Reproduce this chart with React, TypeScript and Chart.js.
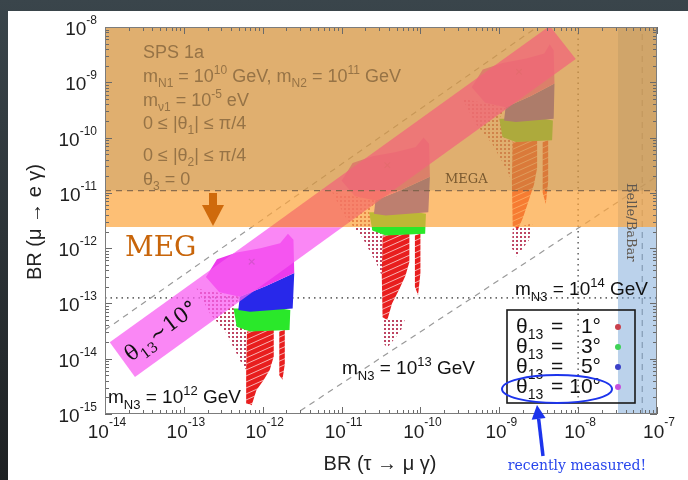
import { useEffect, useRef } from 'react';
import { Chart, registerables } from 'chart.js';

Chart.register(...registerables);

// every polygon vertex is [log10 BR(tau -> mu gamma), log10 BR(mu -> e gamma)]
type LP = [number, number];

// ---------------- axes ----------------
const X_MIN = 1e-14;
const X_MAX = 1e-7;
const Y_MIN = 1e-15;
const Y_MAX = 1e-8;
const xDecades = [-14, -13, -12, -11, -10, -9, -8, -7];
const yDecades = [-15, -14, -13, -12, -11, -10, -9, -8];
const minorSteps = [2, 3, 4, 5, 6, 7, 8, 9];

// ---------------- experimental bounds ----------------
const MEGA_LIMIT = 1.1e-11;
const MEG_LIMIT = 2.4e-12;
const MEG_REACH = 1.26e-13;
const TAU_REACH = 1e-8;
const BELLE_LIMIT = 3.2e-8;
const BABAR_OLD = 6.5e-8;

// ---------------- dashed ratio lines ----------------
const ratioLineA: LP[] = [[-14.0, -13.48], [-8.52, -8.0]];
const ratioLineB: LP[] = [[-11.64, -15.05], [-7.0, -10.7]];

// ---------------- scan, m_N3 = 1e12 GeV ----------------
const n12Fringe: LP[] = [[-12.84, -12.73], [-12.29, -12.88], [-12.37, -13.09], [-12.2, -13.51], [-12.21, -14.2], [-12.27, -14.08], [-12.46, -13.54], [-12.67, -13.18]];
const n12Red: LP[] = [[-12.2, -13.51], [-11.86, -13.48], [-11.86, -13.96], [-11.91, -14.2], [-11.99, -14.39], [-12.08, -14.57], [-12.14, -14.84], [-12.2, -14.81], [-12.21, -14.2]];
const n12RedStreak: LP[] = [[-11.79, -13.51], [-11.72, -13.48], [-11.72, -14.1], [-11.75, -14.38], [-11.79, -14.3]];
const n12Green: LP[] = [[-12.37, -13.09], [-11.86, -13.09], [-11.86, -12.76], [-11.77, -12.76], [-11.77, -13.09], [-11.65, -13.12], [-11.66, -13.48], [-12.16, -13.51], [-12.33, -13.42]];
const n12Blue: LP[] = [[-12.31, -13.12], [-12.29, -12.88], [-11.95, -12.68], [-11.6, -12.45], [-11.62, -13.09], [-12.16, -13.15]];
const n12Magenta: LP[] = [[-12.72, -12.52], [-12.58, -12.2], [-12.33, -12.08], [-12.03, -12.0], [-11.78, -11.91], [-11.68, -11.74], [-11.61, -11.85], [-11.6, -12.45], [-11.95, -12.68], [-12.29, -12.88], [-12.55, -12.8]];
const n12Center: LP[] = [[-12.14, -12.245]];

// ---------------- scan, m_N3 = 1e13 GeV ----------------
const n13Fringe: LP[] = [[-11.12, -10.99], [-10.57, -11.14], [-10.65, -11.35], [-10.48, -11.77], [-10.49, -12.5], [-10.55, -12.3], [-10.74, -11.8], [-10.95, -11.44]];
const n13Tail: LP[] = [[-10.48, -13.3], [-10.2, -13.3], [-10.25, -13.5], [-10.42, -13.8], [-10.48, -13.7]];
const n13Red: LP[] = [[-10.48, -11.77], [-10.14, -11.74], [-10.14, -12.25], [-10.19, -12.5], [-10.27, -12.75], [-10.36, -13.0], [-10.42, -13.3], [-10.48, -13.25], [-10.49, -12.5]];
const n13RedStreak: LP[] = [[-10.07, -11.77], [-10.0, -11.74], [-10.0, -12.45], [-10.03, -12.85], [-10.07, -12.7]];
const n13Green: LP[] = [[-10.65, -11.35], [-10.14, -11.35], [-10.14, -11.02], [-10.05, -11.02], [-10.05, -11.35], [-9.93, -11.38], [-9.94, -11.74], [-10.44, -11.77], [-10.61, -11.68]];
const n13Blue: LP[] = [[-10.59, -11.38], [-10.57, -11.14], [-10.23, -10.94], [-9.88, -10.71], [-9.9, -11.35], [-10.44, -11.41]];
const n13Magenta: LP[] = [[-11.0, -10.78], [-10.86, -10.46], [-10.61, -10.34], [-10.31, -10.26], [-10.06, -10.17], [-9.96, -10.0], [-9.89, -10.11], [-9.88, -10.71], [-10.23, -10.94], [-10.57, -11.14], [-10.83, -11.06]];
const n13Center: LP[] = [[-10.42, -10.5]];

// ---------------- scan, m_N3 = 1e14 GeV ----------------
const n14Fringe: LP[] = [[-9.47, -9.3], [-8.92, -9.45], [-9.0, -9.66], [-8.83, -10.08], [-8.84, -10.8], [-8.9, -10.6], [-9.09, -10.11], [-9.3, -9.75]];
const n14Tail: LP[] = [[-8.83, -11.65], [-8.58, -11.55], [-8.62, -11.85], [-8.78, -12.15], [-8.84, -12.0]];
const n14Red: LP[] = [[-8.83, -10.08], [-8.52, -10.05], [-8.52, -10.55], [-8.56, -10.85], [-8.63, -11.15], [-8.7, -11.45], [-8.76, -11.65], [-8.83, -11.6], [-8.84, -10.8]];
const n14RedStreak: LP[] = [[-8.45, -10.08], [-8.38, -10.05], [-8.38, -10.8], [-8.41, -11.2], [-8.45, -11.0]];
const n14Green: LP[] = [[-9.0, -9.66], [-8.52, -9.66], [-8.52, -9.33], [-8.44, -9.33], [-8.44, -9.66], [-8.32, -9.69], [-8.33, -10.05], [-8.79, -10.08], [-8.96, -9.99]];
const n14Blue: LP[] = [[-8.94, -9.69], [-8.92, -9.45], [-8.6, -9.25], [-8.3, -9.02], [-8.31, -9.66], [-8.79, -9.72]];
const n14Magenta: LP[] = [[-9.35, -9.09], [-9.21, -8.77], [-8.96, -8.65], [-8.66, -8.57], [-8.43, -8.48], [-8.36, -8.31], [-8.31, -8.42], [-8.3, -9.02], [-8.6, -9.25], [-8.92, -9.45], [-9.18, -9.37]];
const n14Center: LP[] = [[-8.75, -8.81]];

// ---------------- "theta13 ~ 10 deg" band, split at the MEG / MEGA bounds ----------------
const bandBelowMeg: LP[] = [[-13.94, -13.7], [-11.91, -11.62], [-10.99, -11.62], [-13.62, -14.33]];
const bandInMeg: LP[] = [[-11.91, -11.62], [-11.27, -10.96], [-10.35, -10.96], [-10.99, -11.62]];
const bandInMega: LP[] = [[-11.27, -10.96], [-8.36, -7.98], [-8.03, -8.58], [-10.35, -10.96]];

// ---------------- legend ----------------
const legendAngles = ['1°', '3°', '5°', '10°'];
const legendDots = ['#c9404c', '#3fd257', '#3b40c8', '#c651dc'];

const SANS = '"Liberation Sans", Arial, Helvetica, sans-serif';
const SERIF = '"DejaVu Serif", "Liberation Serif", serif';

type Seg = { t: string; s?: 'sub' | 'sup' };

function drawRich(c: CanvasRenderingContext2D, segs: Seg[], x: number, y: number, size: number, family: string, align: 'left' | 'center' | 'right' = 'left') {
  const small = Math.round(size * 0.68);
  const widths = segs.map((s) => {
    c.font = `${s.s ? small : size}px ${family}`;
    return c.measureText(s.t).width;
  });
  const total = widths.reduce((p, q) => p + q, 0);
  let cx = align === 'left' ? x : align === 'center' ? x - total / 2 : x - total;
  segs.forEach((s, i) => {
    c.font = `${s.s ? small : size}px ${family}`;
    const dy = s.s === 'sub' ? size * 0.3 : s.s === 'sup' ? -size * 0.42 : 0;
    c.fillText(s.t, cx, y + dy);
    cx += widths[i];
  });
  return total;
}

export default function App() {
  const ref = useRef<HTMLCanvasElement>(null);

  useEffect(() => {
    const canvas = ref.current!;
    const ctx = canvas.getContext('2d')!;

    const mkPattern = (w: number, h: number, paint: (g: CanvasRenderingContext2D) => void) => {
      const pc = document.createElement('canvas');
      pc.width = w;
      pc.height = h;
      paint(pc.getContext('2d')!);
      return ctx.createPattern(pc, 'repeat')!;
    };
    const redStripes = mkPattern(6, 6, (g) => {
      g.fillStyle = 'rgb(232,30,30)';
      g.fillRect(0, 0, 6, 5);
      g.fillStyle = 'rgba(232,30,30,0.35)';
      g.fillRect(0, 5, 6, 1);
    });
    redStripes.setTransform(new DOMMatrix().skewY(-24));
    const dots = mkPattern(4, 4, (g) => {
      g.fillStyle = 'rgba(178,36,72,0.85)';
      g.fillRect(0, 0, 2, 2);
    });

    const toXY = (pts: LP[]) => pts.map(([a, b]) => ({ x: 10 ** a, y: 10 ** b }));
    const rect = (x0: number, x1: number, y0: number, y1: number) => [
      { x: x0, y: y0 }, { x: x1, y: y0 }, { x: x1, y: y1 }, { x: x0, y: y1 },
    ];

    const layers: any[] = []; // bottom -> top
    const poly = (data: any[], color: any) =>
      layers.push({ data, showLine: true, fill: 'shape', backgroundColor: color, borderColor: 'rgba(0,0,0,0)', borderWidth: 0, pointRadius: 0, tension: 0 });
    const line = (data: any[], color: string, dash: number[], width: number) =>
      layers.push({ data, showLine: true, fill: false, borderColor: color, backgroundColor: color, borderDash: dash, borderWidth: width, pointRadius: 0, tension: 0 });
    const marks = (data: any[]) =>
      layers.push({ data, showLine: false, pointStyle: 'crossRot', pointRadius: 4, borderColor: 'rgba(95,40,85,0.85)', borderWidth: 1.3, backgroundColor: 'rgba(0,0,0,0)' });

    // reference lines
    line([{ x: X_MIN, y: MEG_REACH }, { x: X_MAX, y: MEG_REACH }], '#6a6a6a', [1.5, 4], 1.6);
    line([{ x: TAU_REACH, y: Y_MIN }, { x: TAU_REACH, y: Y_MAX }], '#6a6a6a', [1.5, 4], 1.6);
    line(toXY(ratioLineA), '#9a9a9a', [6, 5], 1.2);
    line(toXY(ratioLineB), '#9a9a9a', [6, 5], 1.2);
    line([{ x: BABAR_OLD, y: Y_MIN }, { x: BABAR_OLD, y: Y_MAX }], '#8f8f8f', [6, 5], 1.2);

    // scans
    const clusters = [
      [n12Fringe, null, n12Red, n12RedStreak, n12Green, n12Blue, n12Magenta, n12Center],
      [n13Fringe, n13Tail, n13Red, n13RedStreak, n13Green, n13Blue, n13Magenta, n13Center],
      [n14Fringe, n14Tail, n14Red, n14RedStreak, n14Green, n14Blue, n14Magenta, n14Center],
    ] as (LP[] | null)[][];
    clusters.forEach(([fr, tail, red, streak, green, blue, mag, ctr]) => {
      poly(toXY(fr!), dots);
      if (tail) poly(toXY(tail), dots);
      poly(toXY(red!), redStripes);
      poly(toXY(streak!), redStripes);
      poly(toXY(green!), 'rgb(42,232,42)');
      poly(toXY(blue!), 'rgb(40,40,234)');
      poly(toXY(mag!), 'rgb(236,58,236)');
      marks(toXY(ctr!));
    });

    // excluded regions
    poly(rect(BELLE_LIMIT, X_MAX, Y_MIN, Y_MAX), 'rgba(120,165,215,0.5)');
    poly(rect(X_MIN, X_MAX, MEG_LIMIT, Y_MAX), 'rgba(252,164,59,0.7)');
    poly(rect(X_MIN, X_MAX, MEGA_LIMIT, Y_MAX), 'rgba(109,115,90,0.2)');

    // theta13 ~ 10 deg band
    poly(toXY(bandBelowMeg), 'rgba(248,95,242,0.75)');
    poly(toXY(bandInMeg), 'rgba(244,112,105,0.75)');
    poly(toXY(bandInMega), 'rgba(242,101,122,0.75)');

    line([{ x: X_MIN, y: MEGA_LIMIT }, { x: X_MAX, y: MEGA_LIMIT }], 'rgba(120,95,70,0.85)', [6, 5], 1.2);

    const datasets = layers.map((d, i) => ({ ...d, order: layers.length - i }));

    const deco = {
      id: 'deco',
      beforeDraw(chart: any) {
        const c: CanvasRenderingContext2D = chart.ctx;
        c.save();
        const g = c.createLinearGradient(0, 0, 0, 480);
        g.addColorStop(0, '#3a454b');
        g.addColorStop(1, '#1e2123');
        c.fillStyle = g;
        c.fillRect(0, 0, 688, 480);
        c.fillStyle = '#ffffff';
        c.fillRect(8, 11, 680, 469);
        c.restore();
      },
      afterDraw(chart: any) {
        const c: CanvasRenderingContext2D = chart.ctx;
        const xs = chart.scales.x;
        const ys = chart.scales.y;
        const a = chart.chartArea;
        c.save();
        c.textBaseline = 'alphabetic';
        c.textAlign = 'left';

        // ticks (inward, all four sides)
        c.strokeStyle = '#6a6a6a';
        c.lineWidth = 1;
        c.beginPath();
        xDecades.forEach((d) => {
          [1, ...minorSteps].forEach((m) => {
            const v = m * 10 ** d;
            if (v > X_MAX * 1.001) return;
            const px = Math.round(xs.getPixelForValue(v)) + 0.5;
            const len = m === 1 ? 7 : 4;
            c.moveTo(px, a.bottom); c.lineTo(px, a.bottom - len);
            c.moveTo(px, a.top); c.lineTo(px, a.top + len);
          });
        });
        yDecades.forEach((d) => {
          [1, ...minorSteps].forEach((m) => {
            const v = m * 10 ** d;
            if (v > Y_MAX * 1.001) return;
            const py = Math.round(ys.getPixelForValue(v)) + 0.5;
            const len = m === 1 ? 7 : 4;
            c.moveTo(a.left, py); c.lineTo(a.left + len, py);
            c.moveTo(a.right, py); c.lineTo(a.right - len, py);
          });
        });
        c.stroke();
        c.strokeStyle = '#7c7c7c';
        c.strokeRect(a.left + 0.5, a.top + 0.5, a.right - a.left - 1, a.bottom - a.top - 1);

        // tick labels
        c.fillStyle = '#1e1e1e';
        xDecades.forEach((d) => {
          const px = xs.getPixelForValue(10 ** d);
          c.font = `19px ${SANS}`;
          const wb = c.measureText('10').width;
          c.font = `12px ${SANS}`;
          const we = c.measureText(String(d)).width;
          const x0 = px + 2 - (wb + we) / 2;
          c.font = `19px ${SANS}`;
          c.fillText('10', x0, a.bottom + 24);
          c.font = `12px ${SANS}`;
          c.fillText(String(d), x0 + wb, a.bottom + 12);
        });
        yDecades.forEach((d) => {
          const py = ys.getPixelForValue(10 ** d);
          c.font = `19px ${SANS}`;
          const wb = c.measureText('10').width;
          c.font = `12px ${SANS}`;
          const we = c.measureText(String(d)).width;
          const x0 = a.left - 8 - wb - we;
          c.font = `19px ${SANS}`;
          c.fillText('10', x0, py + 8);
          c.font = `12px ${SANS}`;
          c.fillText(String(d), x0 + wb, py - 3);
        });

        // axis titles
        c.fillStyle = '#222';
        c.font = `20px ${SANS}`;
        c.textAlign = 'center';
        c.fillText('BR (τ → μ γ)', 380, 470);
        c.save();
        c.translate(41, 222);
        c.rotate(-Math.PI / 2);
        c.fillText('BR (μ → e γ)', 0, 0);
        c.restore();
        c.textAlign = 'left';

        // parameter block
        c.fillStyle = '#967346';
        const L = 143;
        drawRich(c, [{ t: 'SPS 1a' }], L, 58, 18, SANS);
        drawRich(c, [{ t: 'm' }, { t: 'N1', s: 'sub' }, { t: ' = 10' }, { t: '10', s: 'sup' }, { t: ' GeV, m' }, { t: 'N2', s: 'sub' }, { t: ' = 10' }, { t: '11', s: 'sup' }, { t: ' GeV' }], L, 82, 18, SANS);
        drawRich(c, [{ t: 'm' }, { t: 'ν1', s: 'sub' }, { t: ' = 10' }, { t: '-5', s: 'sup' }, { t: ' eV' }], L, 106, 18, SANS);
        drawRich(c, [{ t: '0 ≤ |θ' }, { t: '1', s: 'sub' }, { t: '| ≤ π/4' }], L, 129, 18, SANS);
        drawRich(c, [{ t: '0 ≤ |θ' }, { t: '2', s: 'sub' }, { t: '| ≤ π/4' }], L, 161, 18, SANS);
        drawRich(c, [{ t: 'θ' }, { t: '3', s: 'sub' }, { t: ' = 0' }], L, 185, 18, SANS);

        // MEGA label
        c.fillStyle = '#7a5a30';
        c.font = `13px ${SERIF}`;
        c.fillText('MEGA', 445, 183);

        // MEG arrow and label
        c.fillStyle = '#cf6a0c';
        c.fillRect(209, 193, 8, 14);
        c.beginPath();
        c.moveTo(202, 205); c.lineTo(224, 205); c.lineTo(213, 226); c.closePath();
        c.fill();
        c.fillStyle = '#c8650a';
        c.font = `28px ${SERIF}`;
        c.fillText('MEG', 125, 256);

        // Belle/BaBar
        c.save();
        c.translate(627, 183);
        c.rotate(Math.PI / 2);
        c.fillStyle = '#5f574f';
        c.font = `13px ${SERIF}`;
        c.fillText('Belle/BaBar', 0, 0);
        c.restore();

        // theta13 ~ 10 deg in the band
        c.save();
        c.translate(131, 362);
        c.rotate((-37 * Math.PI) / 180);
        c.fillStyle = '#111';
        drawRich(c, [{ t: 'θ' }, { t: '13', s: 'sub' }, { t: '∼10°' }], 0, 0, 21, SERIF);
        c.restore();

        // m_N3 labels
        c.fillStyle = '#111';
        drawRich(c, [{ t: 'm' }, { t: 'N3', s: 'sub' }, { t: ' = 10' }, { t: '12', s: 'sup' }, { t: ' GeV' }], 108, 403, 19, SANS);
        drawRich(c, [{ t: 'm' }, { t: 'N3', s: 'sub' }, { t: ' = 10' }, { t: '13', s: 'sup' }, { t: ' GeV' }], 342, 374, 19, SANS);
        drawRich(c, [{ t: 'm' }, { t: 'N3', s: 'sub' }, { t: ' = 10' }, { t: '14', s: 'sup' }, { t: ' GeV' }], 515, 295, 19, SANS);

        // legend
        c.strokeStyle = '#1a1a1a';
        c.lineWidth = 1.6;
        c.strokeRect(507, 310, 128, 93);
        legendAngles.forEach((ang, i) => {
          const base = 333 + i * 20;
          c.fillStyle = '#111';
          drawRich(c, [{ t: 'θ' }, { t: '13', s: 'sub' }], 516, base, 21, SANS);
          c.font = `21px ${SANS}`;
          c.fillText('=', 551, base);
          c.textAlign = 'right';
          c.fillText(ang, 601, base);
          c.textAlign = 'left';
          c.fillStyle = legendDots[i];
          c.beginPath();
          c.arc(618, base - 6, 3, 0, Math.PI * 2);
          c.fill();
        });

        // highlight
        c.strokeStyle = 'rgb(28,52,236)';
        c.lineWidth = 2;
        c.beginPath();
        c.ellipse(557, 389, 55, 14, 0, 0, Math.PI * 2);
        c.stroke();
        // blue arrow
        const tx = 537, ty = 405, bx = 543, by = 456;
        const len = Math.hypot(bx - tx, by - ty);
        const ux = (tx - bx) / len, uy = (ty - by) / len;
        const hx = tx - ux * 14, hy = ty - uy * 14;
        c.fillStyle = 'rgb(28,52,236)';
        c.lineWidth = 3.5;
        c.beginPath();
        c.moveTo(bx, by); c.lineTo(hx, hy); c.stroke();
        c.beginPath();
        c.moveTo(tx, ty);
        c.lineTo(hx - uy * 7, hy + ux * 7);
        c.lineTo(hx + uy * 7, hy - ux * 7);
        c.closePath();
        c.fill();
        c.fillStyle = 'rgb(40,70,236)';
        c.font = `14px ${SERIF}`;
        c.textAlign = 'center';
        c.fillText('recently measured!', 577, 470);
        c.restore();
      },
    };

    const chart = new Chart(canvas, {
      type: 'scatter',
      data: { datasets },
      options: {
        animation: false,
        responsive: false,
        devicePixelRatio: 1,
        events: [],
        layout: { padding: { left: 105, right: 31, top: 27, bottom: 66 } },
        plugins: { legend: { display: false }, tooltip: { enabled: false } },
        scales: {
          x: { type: 'logarithmic', min: X_MIN, max: X_MAX, display: false },
          y: { type: 'logarithmic', min: Y_MIN, max: Y_MAX, display: false },
        },
      },
      plugins: [deco],
    } as any);
    return () => chart.destroy();
  }, []);

  return (
    <div style={{ position: 'fixed', left: 0, top: 0, width: 688, height: 480 }}>
      <canvas ref={ref} width={688} height={480} style={{ display: 'block' }} />
    </div>
  );
}
